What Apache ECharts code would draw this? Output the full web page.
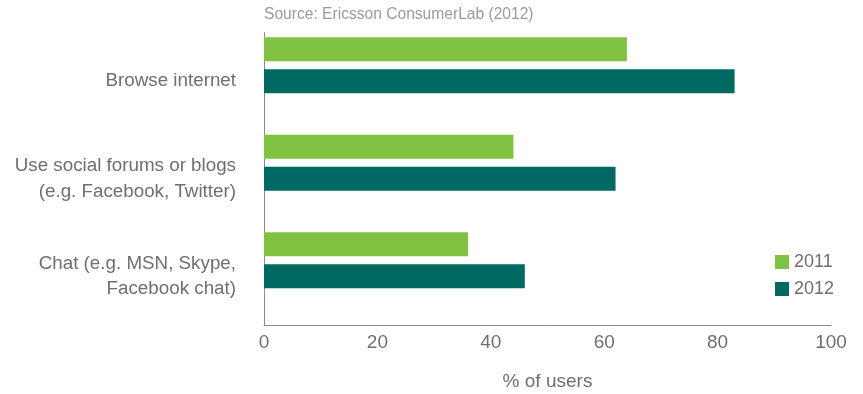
<!DOCTYPE html>
<html lang="en">
<head>
    <meta charset="UTF-8">
    <script src="https://cdn.jsdelivr.net/npm/echarts@6/dist/echarts.min.js"></script>
    <title>Activities on smartphone</title>
    <style>
        html, body { margin: 0; padding: 0; background: #fff; }
    </style>
</head>
<body>
<div id="main" style="width: 863px;height:394px;"></div>

<script type="text/javascript">
    // data
    var categories = ['Browse internet', 'Use social forums or blogs\n(e.g. Facebook, Twitter)', 'Chat (e.g. MSN, Skype,\nFacebook chat)'];
    var years = ['2011', '2012'];
    var values2011 = [64, 44, 36];
    var values2012 = [83, 62, 46];
    var xTicks = [0, 20, 40, 60, 80, 100];

    var textColor = '#6f6f6f';
    var fontFamily = '"Liberation Sans", Arial, sans-serif';

    // small vertical nudges for the category labels (top padding)
    var labelPadTop = [5, 0, 0];

    var myChart = echarts.init(document.getElementById('main'));

    var option = {
        backgroundColor: '#fff',
        animation: false,
        textStyle: { fontFamily: fontFamily },
        title: {
            text: 'Source: Ericsson ConsumerLab (2012)',
            left: 264,
            top: 7,
            padding: 0,
            textStyle: { color: '#9a9a9a', fontSize: 15.6, fontWeight: 'normal', fontFamily: fontFamily }
        },
        legend: {
            data: years,
            orient: 'vertical',
            left: 770,
            top: 248,
            itemWidth: 14,
            itemHeight: 14,
            itemGap: 9,
            icon: 'rect',
            textStyle: { color: textColor, fontSize: 18, fontFamily: fontFamily }
        },
        grid: {
            left: 264,
            right: 32,
            top: 32.5,
            bottom: 69,
            outerBoundsMode: 'none',
            containLabel: false
        },
        xAxis: {
            type: 'value',
            min: xTicks[0],
            max: xTicks[xTicks.length - 1],
            interval: 20,
            name: '% of users',
            nameLocation: 'middle',
            nameGap: 47,
            nameTextStyle: { color: textColor, fontSize: 19, fontFamily: fontFamily },
            axisLine: { show: true, lineStyle: { color: '#8a8a8a', width: 1 } },
            axisTick: { show: false },
            splitLine: { show: false },
            axisLabel: { color: textColor, fontSize: 19, margin: 8, fontFamily: fontFamily }
        },
        yAxis: {
            type: 'category',
            inverse: true,
            data: categories.map(function (c, i) {
                return { value: c, textStyle: { padding: [labelPadTop[i], 0, 0, 0] } };
            }),
            axisLine: { show: true, lineStyle: { color: '#8a8a8a', width: 1 } },
            axisTick: { show: false },
            axisLabel: {
                color: textColor,
                fontSize: 18.8,
                lineHeight: 25.5,
                margin: 28,
                align: 'right',
                fontFamily: fontFamily
            }
        },
        series: [
            {
                name: years[0],
                type: 'bar',
                data: values2011,
                barWidth: 24,
                barGap: '33%',
                itemStyle: { color: '#80c242' }
            },
            {
                name: years[1],
                type: 'bar',
                data: values2012,
                barWidth: 24,
                barGap: '33%',
                itemStyle: { color: '#006a62' }
            },
            {
                // empty slot so the pair sits at the top of each band
                name: 'spacer',
                type: 'bar',
                data: [null, null, null],
                barWidth: 24,
                barGap: '33%',
                silent: true
            }
        ]
    };

    myChart.setOption(option);
</script>
</body>
</html>
